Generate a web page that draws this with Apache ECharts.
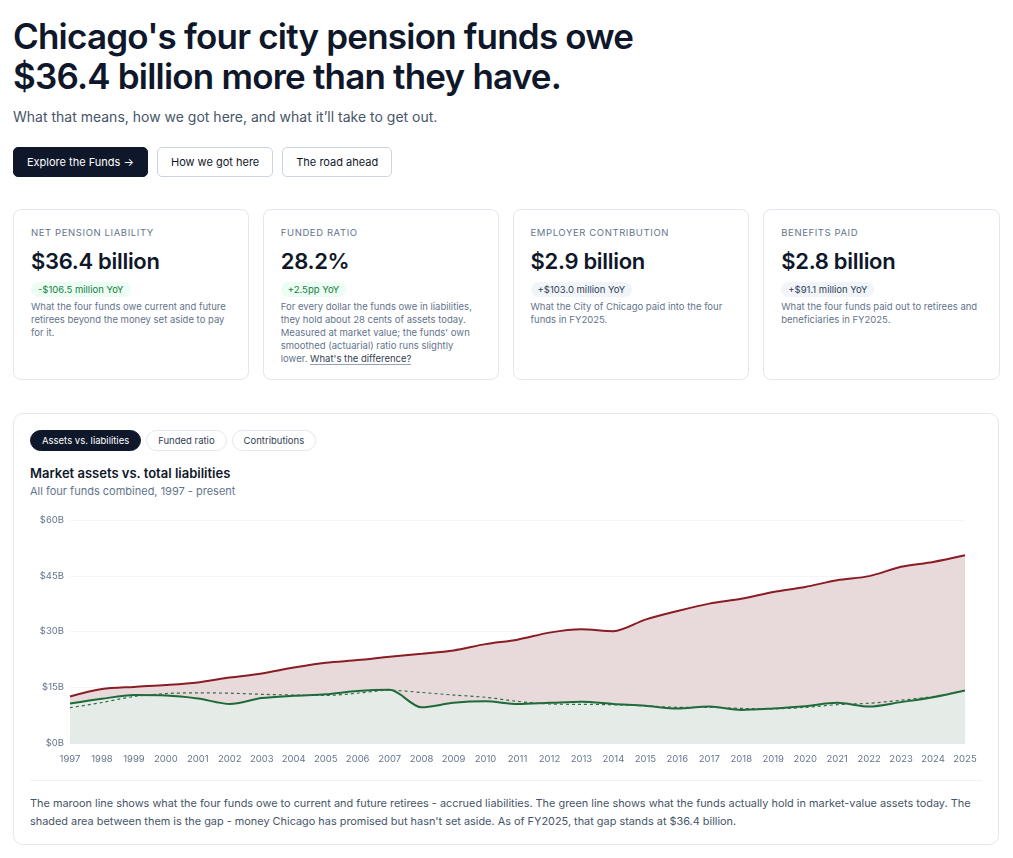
<!DOCTYPE html>
<html>
<head>
<meta charset="utf-8">
<script src="https://cdn.jsdelivr.net/npm/echarts@6/dist/echarts.min.js"></script>
<style>
  * { box-sizing: border-box; }
  body { margin: 0; background: #fff; font-family: Inter, "Noto Sans", sans-serif; color: #0f172a; }
  .page { padding: 0 13px; width: 1013px; }
  h1 { margin: 0; padding-top: 16px; font-size: 35px; line-height: 40px; font-weight: 600; letter-spacing: -0.8px; }
  .lede { margin: 12px 0 0; font-size: 14px; color: #475569; }
  .btns { margin-top: 22px; display: flex; gap: 9px; }
  .btn { height: 30px; padding: 0 13px; border-radius: 5px; border: 1px solid #cbd5e1; font-size: 11px; line-height: 28px; color: #0f172a; background: #fff; }
  .btn.dark { background: #0f172a; color: #fff; border-color: #0f172a; }
  .cards { margin-top: 32px; display: flex; gap: 14px; }
  .card { width: 236px; height: 171px; border: 1px solid #e2e8f0; border-radius: 8px; padding: 17px 17px; }
  .card:nth-child(3), .card:nth-child(4) { width: 237px; }
  .lab { font-size: 9.5px; letter-spacing: 0.6px; color: #64748b; text-transform: uppercase; }
  .val { font-size: 22px; font-weight: 600; margin-top: 10px; letter-spacing: -0.3px; }
  .pill { display: inline-block; margin-top: 8px; font-size: 9.5px; padding: 2px 7px; border-radius: 9px; }
  .pill.good { background: #ecfdf3; color: #15803d; }
  .pill.neu { background: #f1f5f9; color: #334155; }
  .desc { font-size: 9.5px; line-height: 13px; color: #64748b; margin-top: 3px; }
  .desc u { text-decoration: none; color: #334155; border-bottom: 1px solid #94a3b8; }
  .panel { margin-top: 33px; width: 986px; height: 432px; border: 1px solid #e2e8f0; border-radius: 10px; padding: 16px 16px; position: relative; }
  .tabs { display: flex; gap: 5px; }
  .tab { height: 21px; padding: 0 11px; border-radius: 11px; border: 1px solid #e2e8f0; font-size: 9.5px; line-height: 19px; color: #334155; }
  .tab.on { background: #0f172a; color: #fff; border-color: #0f172a; }
  .ctitle { margin-top: 14px; font-size: 13px; font-weight: 600; }
  .csub { margin-top: 3px; font-size: 11px; color: #64748b; }
  #chart { width: 952px; height: 272px; margin-top: 7px; }
  .sep { border-top: 1px solid #eef2f6; margin-top: 3px; }
  .cap { margin-top: 13px; font-size: 10.9px; line-height: 18px; color: #475569; }
</style>
</head>
<body>
<div class="page">
  <h1>Chicago's four city pension funds owe<br>$36.4 billion more than they have.</h1>
  <p class="lede">What that means, how we got here, and what it’ll take to get out.</p>
  <div class="btns">
    <div class="btn dark">Explore the Funds →</div>
    <div class="btn">How we got here</div>
    <div class="btn">The road ahead</div>
  </div>
  <div class="cards">
    <div class="card">
      <div class="lab">Net pension liability</div>
      <div class="val">$36.4 billion</div>
      <div class="pill good">-$106.5 million YoY</div>
      <div class="desc">What the four funds owe current and future retirees beyond the money set aside to pay for it.</div>
    </div>
    <div class="card">
      <div class="lab">Funded ratio</div>
      <div class="val">28.2%</div>
      <div class="pill good">+2.5pp YoY</div>
      <div class="desc">For every dollar the funds owe in liabilities, they hold about 28 cents of assets today. Measured at market value; the funds' own smoothed (actuarial) ratio runs slightly lower. <u>What's the difference?</u></div>
    </div>
    <div class="card">
      <div class="lab">Employer contribution</div>
      <div class="val">$2.9 billion</div>
      <div class="pill neu">+$103.0 million YoY</div>
      <div class="desc">What the City of Chicago paid into the four funds in FY2025.</div>
    </div>
    <div class="card">
      <div class="lab">Benefits paid</div>
      <div class="val">$2.8 billion</div>
      <div class="pill neu">+$91.1 million YoY</div>
      <div class="desc">What the four funds paid out to retirees and beneficiaries in FY2025.</div>
    </div>
  </div>
  <div class="panel">
    <div class="tabs">
      <div class="tab on">Assets vs. liabilities</div>
      <div class="tab">Funded ratio</div>
      <div class="tab">Contributions</div>
    </div>
    <div class="ctitle">Market assets vs. total liabilities</div>
    <div class="csub">All four funds combined, 1997 - present</div>
    <div id="chart"></div>
    <div class="sep"></div>
    <div class="cap">The maroon line shows what the four funds owe to current and future retirees - accrued liabilities. The green line shows what the funds actually hold in market-value assets today. The shaded area between them is the gap - money Chicago has promised but hasn't set aside. As of FY2025, that gap stands at $36.4 billion.</div>
  </div>
</div>
<script>
// 年份与数据（单位：十亿美元）
var years = ['1997', '1998', '1999', '2000', '2001', '2002', '2003', '2004', '2005', '2006',
	'2007', '2008', '2009', '2010', '2011', '2012', '2013', '2014', '2015', '2016',
	'2017', '2018', '2019', '2020', '2021', '2022', '2023', '2024', '2025'];
var liabilities = [12.5, 14.5, 15.1, 15.6, 16.3, 17.6, 18.7, 20.3, 21.6, 22.3,
	23.2, 24.0, 24.9, 26.6, 27.8, 29.7, 30.6, 30.1, 33.2, 35.5,
	37.5, 38.8, 40.6, 42.0, 43.8, 44.9, 47.4, 48.7, 50.5];
var marketAssets = [10.6, 11.9, 12.9, 12.8, 12.0, 10.5, 12.1, 12.7, 13.1, 14.0,
	14.3, 9.6, 10.8, 11.2, 10.5, 10.8, 11.1, 10.5, 10.0, 9.3,
	9.8, 8.9, 9.3, 9.9, 10.8, 9.8, 11.0, 12.3, 14.1];
var actuarialAssets = [9.5, 10.9, 12.5, 13.3, 13.5, 13.4, 13.1, 12.9, 12.8, 13.4,
	14.2, 13.6, 12.9, 12.3, 11.2, 10.5, 10.4, 10.3, 10.0, 9.6,
	9.6, 9.3, 9.2, 9.6, 10.3, 10.7, 11.5, 12.5, 14.1];
var yTicks = [0, 15, 30, 45, 60];

var myChart = echarts.init(document.getElementById('chart'));

option = {
	animation: false,
	textStyle: { fontFamily: 'Inter' },
	grid: { left: 40, right: 17, top: 15, bottom: 34 },
	xAxis: {
		type: 'category',
		boundaryGap: false,
		data: years,
		axisLine: { show: true, lineStyle: { color: '#e2e8f0' } },
		axisTick: { show: false },
		axisLabel: { interval: 0, color: '#64748b', fontSize: 9.5, margin: 11 }
	},
	yAxis: {
		type: 'value',
		min: yTicks[0],
		max: yTicks[yTicks.length - 1],
		interval: 15,
		axisLine: { show: false },
		axisTick: { show: false },
		axisLabel: { color: '#64748b', fontSize: 9.5, margin: 6, formatter: function (v) { return '$' + v + 'B'; } },
		splitLine: { lineStyle: { color: '#f3f5f8' } }
	},
	series: [{
			name: 'Liabilities',
			type: 'line',
			smooth: 0.3,
			symbol: 'none',
			data: liabilities,
			lineStyle: { color: '#8a1c24', width: 2 },
			areaStyle: { color: '#e8d9db', opacity: 1 },
			z: 2
		},
		{
			name: 'Market assets',
			type: 'line',
			smooth: 0.3,
			symbol: 'none',
			data: marketAssets,
			lineStyle: { color: '#1e6b3a', width: 2 },
			areaStyle: { color: '#e5ebe7', opacity: 1 },
			z: 3
		},
		{
			name: 'Actuarial assets',
			type: 'line',
			smooth: 0.3,
			symbol: 'none',
			data: actuarialAssets,
			lineStyle: { color: '#2f6b45', width: 1.2, type: [3, 3] },
			z: 4
		}
	]
};
myChart.setOption(option);
</script>
</body>
</html>
